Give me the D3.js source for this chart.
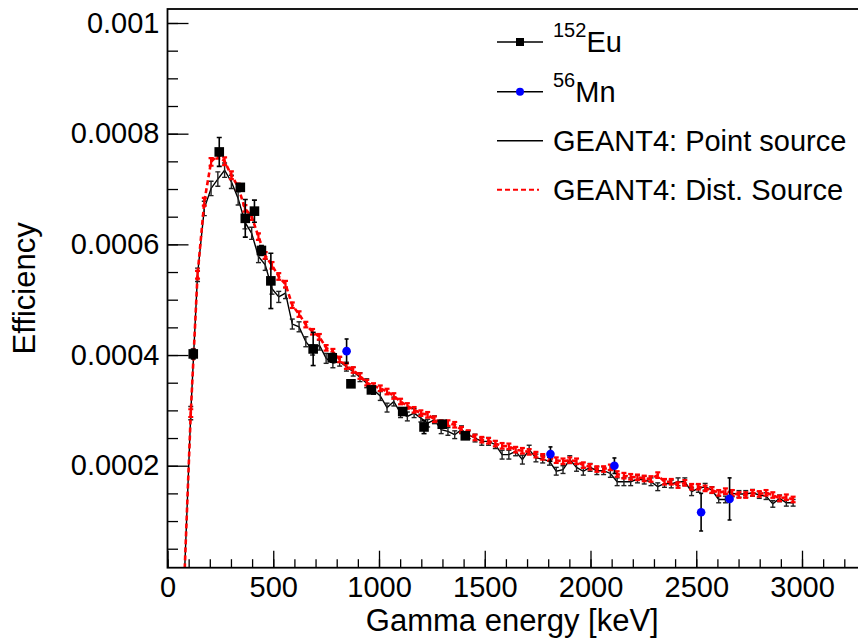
<!DOCTYPE html>
<html><head><meta charset="utf-8">
<script src="https://cdn.jsdelivr.net/npm/d3@7"></script>
<style>
html,body{margin:0;padding:0;background:#fff;}
svg{display:block;font-family:"Liberation Sans",Arial,Helvetica,sans-serif;}
</style></head>
<body>
<svg id="chart" width="858" height="639"></svg>
<script>
// ---------------- data ----------------
const simEnergy = [80,110,142,174,206,238,270,302,334,366,
 398,430,462,494,526,558,590,622,654,686,
 718,750,782,814,846,878,910,942,974,1006,
 1038,1070,1102,1134,1166,1198,1230,1262,1294,1326,
 1358,1390,1422,1454,1486,1518,1550,1582,1614,1646,
 1678,1710,1742,1774,1806,1838,1870,1902,1934,1966,
 1998,2030,2062,2094,2126,2158,2190,2222,2254,2286,
 2318,2350,2382,2414,2446,2478,2510,2542,2574,2606,
 2638,2670,2702,2734,2766,2798,2830,2862,2894,2926,2958];

const pointSource = [0.0,0.000295,0.000545,0.000665,0.000701,0.000718,0.000734,0.000713,0.000683,0.000640,
 0.000620,0.000578,0.000563,0.000520,0.000505,0.000512,0.000456,0.000451,0.000424,0.000409,
 0.000418,0.000394,0.000385,0.000388,0.000379,0.000370,0.000360,0.000349,0.000337,0.000326,
 0.000305,0.000316,0.000295,0.000289,0.000295,0.000286,0.000277,0.000283,0.000265,0.000262,
 0.000256,0.000265,0.000256,0.000250,0.000244,0.000244,0.000238,0.000220,0.000220,0.000226,
 0.000211,0.000229,0.000214,0.000212,0.000208,0.000190,0.000193,0.000211,0.000197,0.000190,
 0.000197,0.000191,0.000191,0.000186,0.000171,0.000171,0.000171,0.000176,0.000174,0.000171,
 0.000162,0.000168,0.000167,0.000171,0.000171,0.000153,0.000159,0.000162,0.000156,0.000139,
 0.000139,0.000150,0.000149,0.000149,0.000151,0.000147,0.000145,0.000131,0.000141,0.000133,0.000133];

const pointSourceErr = [0,0.000012,0.000012,0.000013,0.000013,0.000013,0.000013,0.000012,0.000012,0.000012,
 0.000011,0.000011,0.000010,0.000010,0.000010,0.000010,0.000009,0.000009,0.000009,0.000009,
 0.000009,0.000009,0.000008,0.000008,0.000008,0.000008,0.000008,0.000008,0.000008,0.000008,
 0.000008,0.000008,0.000008,0.000008,0.000008,0.000007,0.000007,0.000007,0.000007,0.000007,
 0.000007,0.000007,0.000007,0.000007,0.000007,0.000007,0.000007,0.000008,0.000008,0.000008,
 0.000008,0.000008,0.000007,0.000007,0.000007,0.000007,0.000007,0.000007,0.000007,0.000007,
 0.000007,0.000007,0.000007,0.000007,0.000007,0.000007,0.000007,0.000007,0.000007,0.000007,
 0.000007,0.000007,0.000007,0.000007,0.000007,0.000007,0.000007,0.000006,0.000006,0.000006,
 0.000006,0.000006,0.000006,0.000006,0.000006,0.000006,0.000006,0.000006,0.000006,0.000006,0.000006];

const distSource = [0.0,0.000295,0.000545,0.000677,0.000749,0.000762,0.000750,0.000725,0.000704,0.000665,
 0.000650,0.000614,0.000580,0.000562,0.000542,0.000528,0.000490,0.000474,0.000455,0.000442,
 0.000433,0.000413,0.000406,0.000392,0.000380,0.000373,0.000362,0.000350,0.000344,0.000340,
 0.000334,0.000326,0.000316,0.000308,0.000301,0.000295,0.000292,0.000284,0.000277,0.000277,
 0.000274,0.000265,0.000259,0.000251,0.000247,0.000245,0.000240,0.000236,0.000235,0.000229,
 0.000227,0.000225,0.000220,0.000216,0.000214,0.000210,0.000208,0.000210,0.000208,0.000201,
 0.000198,0.000194,0.000194,0.000197,0.000185,0.000182,0.000180,0.000179,0.000177,0.000176,
 0.000183,0.000171,0.000171,0.000165,0.000169,0.000162,0.000162,0.000159,0.000156,0.000151,
 0.000154,0.000151,0.000147,0.000147,0.000151,0.000149,0.000151,0.000147,0.000141,0.000143,0.000139];

const distSourceErr = [0,0.000007,0.000007,0.000007,0.000007,0.000007,0.000007,0.000007,0.000006,0.000006,
 0.000006,0.000006,0.000006,0.000006,0.000006,0.000006,0.000005,0.000005,0.000005,0.000005,
 0.000005,0.000005,0.000005,0.000005,0.000005,0.000005,0.000005,0.000005,0.000005,0.000005,
 0.000005,0.000005,0.000005,0.000005,0.000005,0.000005,0.000005,0.000005,0.000005,0.000005,
 0.000005,0.000005,0.000005,0.000005,0.000005,0.000005,0.000005,0.000005,0.000005,0.000005,
 0.000005,0.000005,0.000005,0.000005,0.000005,0.000005,0.000005,0.000005,0.000005,0.000005,
 0.000005,0.000005,0.000005,0.000005,0.000005,0.000005,0.000005,0.000005,0.000005,0.000005,
 0.000005,0.000005,0.000005,0.000005,0.000005,0.000005,0.000005,0.000005,0.000005,0.000005,
 0.000005,0.000005,0.000005,0.000005,0.000005,0.000005,0.000005,0.000005,0.000005,0.000005,0.000005];

const euEnergy = [121.8,244.7,344.3,367.8,411.1,444.0,488.7,688.7,778.9,867.4,964.1,1112.1,1212.9,1299.1,1408.0];
const euEff    = [0.000402,0.000767,0.000703,0.000647,0.000660,0.000589,0.000534,0.000411,0.000395,0.000348,0.000337,0.000298,0.000270,0.000275,0.000254];
const euErr    = [0.000009,0.000026,0.000006,0.000034,0.000020,0.000009,0.000050,0.000030,0.000008,0.000006,0.000006,0.000006,0.000012,0.000006,0.000005];

const mnEnergy = [846.8,1810.7,2113.1,2523.0,2657.6];
const mnEff    = [0.000407,0.000221,0.000200,0.000116,0.000140];
const mnErr    = [0.000022,0.000013,0.000014,0.000034,0.000038];

const xTickValues = [0,500,1000,1500,2000,2500,3000];
const xTickLabels = ["0","500","1000","1500","2000","2500","3000"];
const yTickValues = [0.0002,0.0004,0.0006,0.0008,0.001];
const yTickLabels = ["0.0002","0.0004","0.0006","0.0008","0.001"];

const legendLabels = [
  {sup:"152", main:"Eu"},
  {sup:"56", main:"Mn"},
  {sup:"", main:"GEANT4: Point source"},
  {sup:"", main:"GEANT4: Dist. Source"}
];

// ---------------- layout ----------------
const L = 167.5, R = 859, T = 9, B = 567.7;
const svg = d3.select("#chart");
const x = d3.scaleLinear().domain([0, 3269.5]).range([L, R]);
const y = d3.scaleLinear().domain([0.0000157, 0.0010253]).range([B, T]);

svg.append("defs").append("clipPath").attr("id","clip")
  .append("rect").attr("x",L).attr("y",T).attr("width",R-L).attr("height",B-T);

const plot = svg.append("g").attr("clip-path","url(#clip)");

function errorBars(g, xs, ys, es, color, width, cap){
  const idx = d3.range(xs.length).filter(i => es[i] > 0);
  g.selectAll(null).data(idx).join("line")
    .attr("x1", i => x(xs[i])).attr("x2", i => x(xs[i]))
    .attr("y1", i => y(ys[i]-es[i])).attr("y2", i => y(ys[i]+es[i]))
    .attr("stroke", color).attr("stroke-width", width);
  if (cap > 0) {
    [-1, 1].forEach(s => {
      g.selectAll(null).data(idx).join("line")
        .attr("x1", i => x(xs[i]) - cap).attr("x2", i => x(xs[i]) + cap)
        .attr("y1", i => y(ys[i]+s*es[i])).attr("y2", i => y(ys[i]+s*es[i]))
        .attr("stroke", color).attr("stroke-width", width);
    });
  }
}

const line = d3.line().x(d => x(d[0])).y(d => y(d[1]));

// point source (black solid)
const gP = plot.append("g");
gP.append("path").datum(simEnergy.map((e,i)=>[e,pointSource[i]]))
  .attr("d", line).attr("fill","none").attr("stroke","#000").attr("stroke-width",1.4);
errorBars(gP, simEnergy, pointSource, pointSourceErr, "#222", 1.4, 2.5);

// distributed source (red dashed)
const gD = plot.append("g");
gD.append("path").datum(simEnergy.map((e,i)=>[e,distSource[i]]))
  .attr("d", line).attr("fill","none").attr("stroke","#ff0000").attr("stroke-width",2.6)
  .attr("stroke-dasharray","5,3");
errorBars(gD, simEnergy, distSource, distSourceErr, "#ff0000", 2.2, 2.5);

// Eu-152 data
const gE = plot.append("g");
errorBars(gE, euEnergy, euEff, euErr, "#000", 1.6, 2.5);
gE.selectAll("rect").data(d3.range(euEnergy.length)).join("rect")
  .attr("x", i => x(euEnergy[i]) - 4.8).attr("y", i => y(euEff[i]) - 4.8)
  .attr("width", 9.6).attr("height", 9.6).attr("fill","#000");

// Mn-56 data
const gM = plot.append("g");
errorBars(gM, mnEnergy, mnEff, mnErr, "#000", 1.6, 2);
gM.selectAll("circle").data(d3.range(mnEnergy.length)).join("circle")
  .attr("cx", i => x(mnEnergy[i])).attr("cy", i => y(mnEff[i]))
  .attr("r", 4.3).attr("fill","#0000ff");

// ---------------- axes ----------------
const fontTick = 29;
// x minor
svg.append("g").attr("transform",`translate(0,${B})`)
  .call(d3.axisBottom(x).tickValues(d3.range(0, 3300, 100)).tickSizeInner(-8.5).tickSizeOuter(0).tickFormat(""))
  .call(g => { g.select(".domain").remove(); g.selectAll("line").attr("stroke","#000").attr("stroke-width",1.3); });
// x major
svg.append("g").attr("transform",`translate(0,${B})`)
  .call(d3.axisBottom(x).tickValues(xTickValues).tickSizeInner(-17).tickSizeOuter(0).tickPadding(9)
    .tickFormat((d,i) => xTickLabels[i]))
  .call(g => {
    g.select(".domain").remove();
    g.selectAll("line").attr("stroke","#000").attr("stroke-width",1.3);
    g.selectAll("text").attr("font-size",fontTick).attr("fill","#000")
      .attr("font-family","'Liberation Sans',Arial,Helvetica,sans-serif");
  });
// y minor
svg.append("g").attr("transform",`translate(${L},0)`)
  .call(d3.axisLeft(y).tickValues(d3.range(1, 21).map(k => k*0.00005)).tickSizeInner(-10.5).tickSizeOuter(0).tickFormat(""))
  .call(g => { g.select(".domain").remove(); g.selectAll("line").attr("stroke","#000").attr("stroke-width",1.3); });
// y major
svg.append("g").attr("transform",`translate(${L},0)`)
  .call(d3.axisLeft(y).tickValues(yTickValues).tickSizeInner(-21).tickSizeOuter(0).tickPadding(8)
    .tickFormat((d,i) => yTickLabels[i]))
  .call(g => {
    g.select(".domain").remove();
    g.selectAll("line").attr("stroke","#000").attr("stroke-width",1.3);
    g.selectAll("text").attr("font-size",fontTick).attr("fill","#000")
      .attr("font-family","'Liberation Sans',Arial,Helvetica,sans-serif");
  });

// frame
svg.append("rect").attr("x",L).attr("y",T).attr("width",R-L).attr("height",B-T)
  .attr("fill","none").attr("stroke","#000").attr("stroke-width",1.8);

// axis titles
svg.append("text").attr("x",(L+857)/2).attr("y",631).attr("text-anchor","middle")
  .attr("font-size",31).text("Gamma energy [keV]");
svg.append("text").attr("transform",`translate(35,${(T+B)/2}) rotate(-90)`).attr("text-anchor","middle")
  .attr("font-size",31).text("Efficiency");

// ---------------- legend ----------------
const lg = svg.append("g");
const rowsY = [42, 91.7, 140.7, 189.7];
const baseY = [51.7, 101.5, 150.8, 199.8];
const lx1 = 497, lx2 = 543, tx = 553;
// row 1 Eu
lg.append("line").attr("x1",lx1).attr("x2",lx2).attr("y1",rowsY[0]).attr("y2",rowsY[0]).attr("stroke","#000").attr("stroke-width",1.4);
lg.append("rect").attr("x",(lx1+lx2)/2-4).attr("y",rowsY[0]-4).attr("width",8).attr("height",8).attr("fill","#000");
// row 2 Mn
lg.append("line").attr("x1",lx1).attr("x2",lx2).attr("y1",rowsY[1]).attr("y2",rowsY[1]).attr("stroke","#000").attr("stroke-width",1.4);
lg.append("circle").attr("cx",(lx1+lx2)/2).attr("cy",rowsY[1]).attr("r",4).attr("fill","#0000ff");
// row 3 point source
lg.append("line").attr("x1",lx1).attr("x2",lx2).attr("y1",rowsY[2]).attr("y2",rowsY[2]).attr("stroke","#000").attr("stroke-width",1.4);
// row 4 dist source
lg.append("line").attr("x1",lx1).attr("x2",lx2-4).attr("y1",rowsY[3]).attr("y2",rowsY[3]).attr("stroke","#ff0000").attr("stroke-width",2).attr("stroke-dasharray","5,3");

legendLabels.forEach((lab, i) => {
  const t = lg.append("text").attr("x",tx).attr("y",baseY[i]).attr("font-size",29).attr("fill","#000");
  if (lab.sup) {
    t.append("tspan").attr("font-size",20).attr("dy",-14.5).text(lab.sup);
    t.append("tspan").attr("dy",14.5).text(lab.main);
  } else {
    t.text(lab.main);
  }
});
</script>
</body></html>
